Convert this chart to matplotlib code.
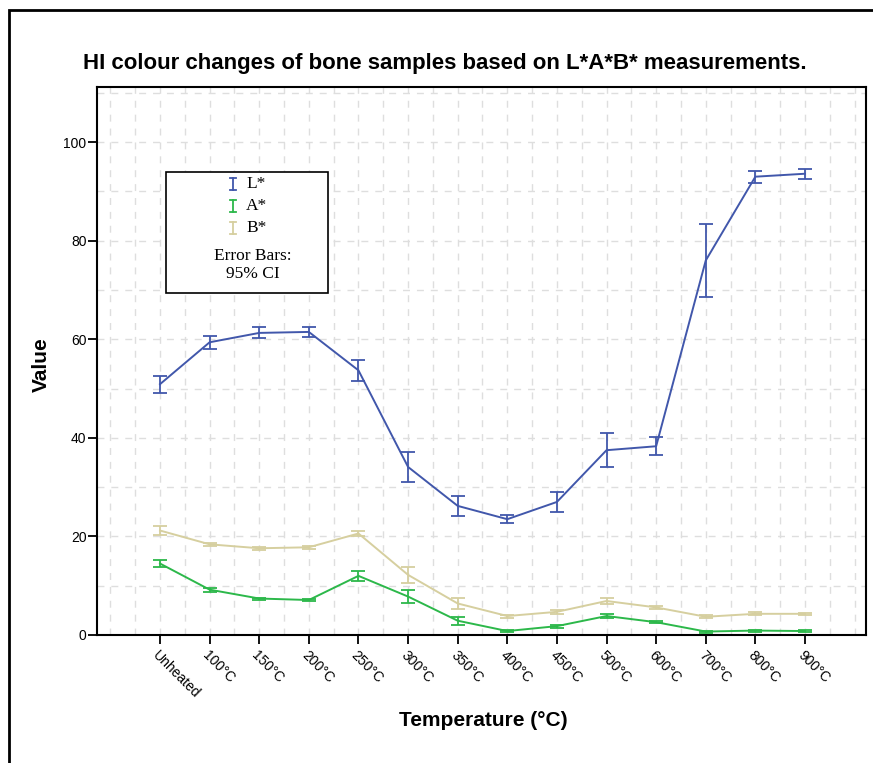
import matplotlib
matplotlib.use("Agg")
import matplotlib.pyplot as plt
from matplotlib.patches import Rectangle
from matplotlib.lines import Line2D
import numpy as np

categories = ["Unheated", "100°C", "150°C", "200°C", "250°C", "300°C", "350°C",
              "400°C", "450°C", "500°C", "600°C", "700°C", "800°C", "900°C"]
L_mean = [50.9, 59.4, 61.3, 61.5, 53.7, 34.1, 26.2, 23.5, 27.0, 37.5, 38.3, 76.0, 93.0, 93.6]
L_err = [1.7, 1.3, 1.1, 1.0, 2.2, 3.0, 2.0, 0.8, 2.0, 3.5, 1.8, 7.5, 1.2, 1.0]
A_mean = [14.5, 9.2, 7.4, 7.1, 12.0, 7.8, 2.9, 0.8, 1.8, 3.85, 2.6, 0.7, 0.9, 0.8]
A_err = [0.8, 0.4, 0.2, 0.3, 1.0, 1.3, 0.8, 0.2, 0.3, 0.5, 0.2, 0.2, 0.2, 0.2]
B_mean = [21.2, 18.4, 17.6, 17.8, 20.6, 12.2, 6.4, 3.85, 4.7, 6.9, 5.6, 3.7, 4.3, 4.3]
B_err = [0.9, 0.3, 0.3, 0.3, 0.6, 1.6, 1.1, 0.3, 0.4, 0.7, 0.3, 0.3, 0.3, 0.2]
series_names = ["L*", "A*", "B*"]
yticks = [0, 20, 40, 60, 80, 100]

colors = {"L*": "#4157ab", "A*": "#2cb84a", "B*": "#d6cf9f"}

W, H = 873, 763
fig = plt.figure(figsize=(W / 100, H / 100), dpi=100)

def fx(px):
    return px / W

def fy(py):
    return 1 - py / H

# outer frame
fig.patches.append(Rectangle((fx(9), fy(790)), fx(900) - fx(9), fy(10) - fy(790),
                             transform=fig.transFigure, fill=False,
                             edgecolor="black", linewidth=2.0))

ax = fig.add_axes([fx(97), fy(635), fx(866) - fx(97), fy(87) - fy(635)])
x = np.arange(len(categories))

for name, m, e in [("L*", L_mean, L_err), ("B*", B_mean, B_err), ("A*", A_mean, A_err)]:
    ax.errorbar(x, m, yerr=e, color=colors[name], linewidth=1.4, elinewidth=1.3,
                capsize=5, capthick=1.3, zorder=3)

ax.set_xlim(-1.27, 14.23)
ax.set_ylim(0, 111.2)
ax.set_yticks(yticks)
ax.set_yticklabels([str(v) for v in yticks], fontsize=10, family="Liberation Sans")
ax.set_yticks(np.arange(0, 111, 10), minor=True)
ax.set_xticks(x)
ax.set_xticklabels(categories, rotation=-45, ha="left", va="top",
                   rotation_mode="anchor", fontsize=10, family="Liberation Sans")
ax.set_xticks(np.arange(-1, 14.5, 0.5), minor=True)
ax.tick_params(axis="x", which="major", length=6.5, width=1.3, direction="out", pad=3)
ax.tick_params(axis="x", which="minor", length=0)
ax.tick_params(axis="y", which="major", length=6.5, width=1.3, direction="out", pad=1)
ax.tick_params(axis="y", which="minor", length=0)

ax.grid(True, which="both", axis="both", color="#dedede", linestyle=(0, (5, 5)),
        linewidth=1.0, zorder=0)
ax.set_axisbelow(True)
for s in ax.spines.values():
    s.set_linewidth(1.5)
    s.set_color("black")

ax.set_xlabel("Temperature (°C)", fontsize=15, fontweight="bold",
              family="Liberation Sans")
ax.set_ylabel("Value", fontsize=15, fontweight="bold", family="Liberation Sans")
ax.xaxis.set_label_coords((483 - 97) / (866 - 97), -(711 - 635) / (635 - 87))
ax.yaxis.set_label_coords(-(97 - 51) / (866 - 97), (635 - 365) / (635 - 87))

fig.text(fx(445), fy(64), "HI colour changes of bone samples based on L*A*B* measurements.",
         ha="center", va="center", fontsize=16, fontweight="bold",
         family="Liberation Sans")

# legend box
fig.patches.append(Rectangle((fx(166), fy(293)), fx(328) - fx(166), fy(172) - fy(293),
                             transform=fig.transFigure, facecolor="white",
                             edgecolor="black", linewidth=1.2, zorder=5))
for i, name in enumerate(series_names):
    yc = 184 + i * 22
    xc = 233
    fig.lines.append(Line2D([fx(xc), fx(xc)], [fy(yc - 6), fy(yc + 6)],
                            transform=fig.transFigure, color=colors[name], lw=1.3, zorder=6))
    for yy in (yc - 6, yc + 6):
        fig.lines.append(Line2D([fx(xc - 3.5), fx(xc + 3.5)], [fy(yy), fy(yy)],
                                transform=fig.transFigure, color=colors[name], lw=1.3, zorder=6))
    fig.text(fx(246), fy(yc), name, ha="left", va="center", fontsize=12.5,
             family="Liberation Serif", zorder=6)
fig.text(fx(253), fy(265), "Error Bars:\n95% CI", ha="center", va="center",
         fontsize=12.5, family="Liberation Serif", linespacing=1.15, zorder=6)

fig.savefig("out.png", dpi=100)
